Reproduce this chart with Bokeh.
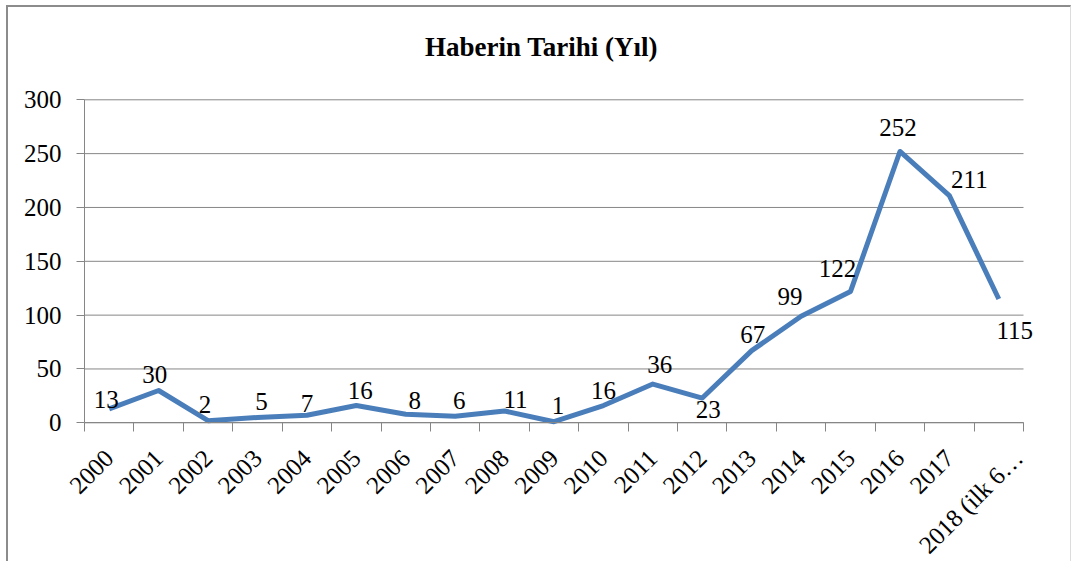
import math
from bokeh.plotting import figure
from bokeh.models import Range1d, FixedTicker, ColumnDataSource, LabelSet, Label
from bokeh.embed import file_html
from bokeh.resources import INLINE

# ---- data ----
title_text = "Haberin Tarihi (Yıl)"
categories = ["2000", "2001", "2002", "2003", "2004", "2005", "2006", "2007",
              "2008", "2009", "2010", "2011", "2012", "2013", "2014", "2015",
              "2016", "2017", "2018 (ilk 6…"]
values = [13, 30, 2, 5, 7, 16, 8, 6, 11, 1, 16, 36, 23, 67, 99, 122, 252, 211, 115]
y_ticks = [0, 50, 100, 150, 200, 250, 300]

# ---- label placement (screen px; x right, y up) ----
label_dx = [-3, -4, -3, 4, 0, 4, 9, 4, 11, 4, 0, 7, 6, 1, -11, -13, -2, 20, 16]
label_dy = [1, 8, 8, 7, 3, 7, 5, 7, 3, 8, 7, 11, -20, 8, 11, 14, 15, 8, -40]
# horizontal nudge of each category label's anchor (in category widths)
tick_label_shift = [0] * 18 + [0.4]

GRAY = "#868686"
FONT = "Liberation Serif"

n = len(categories)
centers = [i + 0.5 for i in range(n)]
label_anchors = [c + s for c, s in zip(centers, tick_label_shift)]

# ---- layout (pixels) ----
W, H = 1065, 556
px_x = 939 / n            # pixels per category
px_y = 323 / 300          # pixels per unit of value
left_pad = 76             # canvas px left of the value axis
right_pad = W - left_pad - 939
top_pad = 92.3            # canvas px above the 300 line
bottom_pad = H - top_pad - 323
x_start = -left_pad / px_x
x_end = n + right_pad / px_x
y_end = 300 + top_pad / px_y
y_start = -bottom_pad / px_y

p = figure(width=W, height=H,
           x_range=Range1d(x_start, x_end), y_range=Range1d(y_start, y_end),
           output_backend="svg", toolbar_location=None,
           min_border_left=0, min_border_right=0,
           min_border_top=0, min_border_bottom=0)
p.styles = {"border-left": "2px solid #8c8c8c", "border-top": "2px solid #8c8c8c",
            "border-right": "1px solid #dcdcdc",
            "margin-left": "6px", "margin-top": "5px"}

p.outline_line_color = None
p.background_fill_color = "white"
p.border_fill_color = "white"

# title (centred over the chart, above the plot area)
p.add_layout(Label(x=(541 - 84) / px_x, y=300 + 52.6 / px_y, text=title_text,
                   text_align="center", text_baseline="middle",
                   text_font=FONT, text_font_size="27px", text_font_style="bold",
                   text_color="black"))

# y axis, drawn at category position 0
p.yaxis.fixed_location = 0
p.yaxis.ticker = FixedTicker(ticks=y_ticks)
p.yaxis.bounds = (0, 300)
p.yaxis.axis_line_color = GRAY
p.yaxis.major_tick_line_color = GRAY
p.yaxis.major_tick_out = 8
p.yaxis.major_tick_in = 0
p.yaxis.minor_tick_out = 0
p.yaxis.minor_tick_in = 0
p.yaxis.major_label_text_font = FONT
p.yaxis.major_label_text_font_size = "25px"
p.yaxis.major_label_text_color = "black"
p.yaxis.major_label_standoff = 15

# x axis, drawn at value 0
p.xaxis.fixed_location = 0
p.xaxis.ticker = FixedTicker(ticks=label_anchors, minor_ticks=list(range(n + 1)))
p.xaxis.major_label_overrides = {a: cat for a, cat in zip(label_anchors, categories)}
p.xaxis.bounds = (0, n)
p.xaxis.axis_line_color = GRAY
p.xaxis.major_tick_out = 0
p.xaxis.major_tick_in = 0
p.xaxis.minor_tick_line_color = GRAY
p.xaxis.minor_tick_out = 9
p.xaxis.minor_tick_in = 0
p.xaxis.major_label_text_font = FONT
p.xaxis.major_label_text_font_size = "25px"
p.xaxis.major_label_text_color = "black"
p.xaxis.major_label_orientation = math.pi / 4
p.xaxis.major_label_standoff = 22

# horizontal gridlines, limited to the category span
p.xgrid.grid_line_color = None
p.ygrid.grid_line_color = None
p.segment(x0=[0] * len(y_ticks), x1=[n] * len(y_ticks), y0=y_ticks, y1=y_ticks,
          line_color=GRAY, line_width=1)

src = ColumnDataSource(dict(x=centers, y=values, t=[str(v) for v in values],
                            dx=label_dx, dy=label_dy))
p.line("x", "y", source=src, line_color="#4A7EBB", line_width=5, line_join="round")

labels = LabelSet(x="x", y="y", text="t", source=src, x_offset="dx", y_offset="dy",
                  text_align="center", text_baseline="alphabetic",
                  text_font=FONT, text_font_size="25px", text_color="black")
p.add_layout(labels)

open("out.html", "w").write(file_html(p, INLINE))
